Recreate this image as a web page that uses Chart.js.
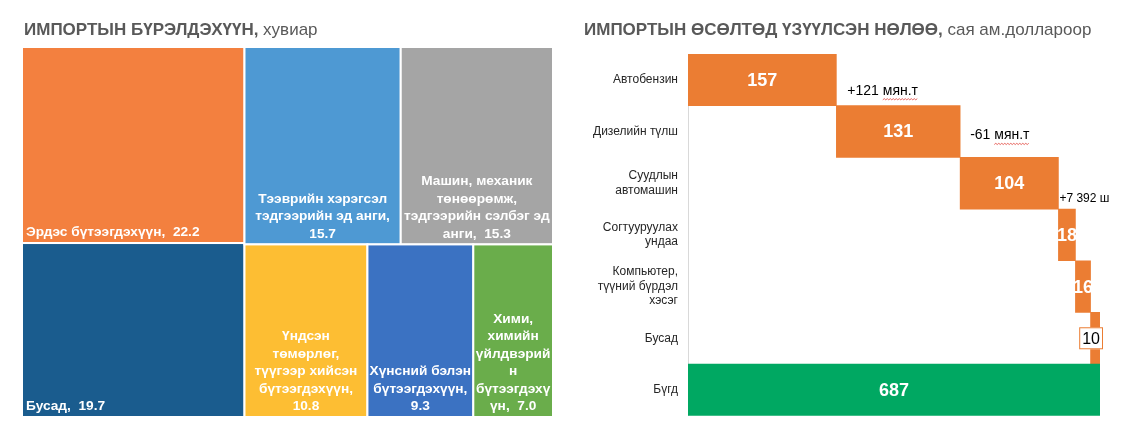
<!DOCTYPE html>
<html>
<head>
<meta charset="utf-8">
<script src="https://cdn.jsdelivr.net/npm/chart.js@4.4.1/dist/chart.umd.min.js"></script>
<style>
  body { margin: 0; background: #fff; font-family: "Liberation Sans", Arial, sans-serif; }
  #wrap { position: relative; width: 1121px; height: 433px; overflow: hidden; }
  .title { position: absolute; top: 21px; font-size: 17px; line-height: 18px; color: #595959; white-space: nowrap; }
  .title span { font-weight: normal; }
  #boxLeft { position: absolute; left: 0; top: 0; width: 560px; height: 433px; }
  #boxRight { position: absolute; left: 560px; top: 0; width: 561px; height: 433px; }
</style>
</head>
<body>
<div id="wrap">
  <div id="boxLeft"><canvas id="treeChart"></canvas></div>
  <div id="boxRight"><canvas id="waterfallChart"></canvas></div>
  <div class="title" style="left:24px"><b>ИМПОРТЫН БҮРЭЛДЭХҮҮН,</b><span> хувиар</span></div>
  <div class="title" style="left:584px"><b>ИМПОРТЫН ӨСӨЛТӨД ҮЗҮҮЛСЭН НӨЛӨӨ,</b><span> сая ам.доллароор</span></div>
</div>

<script>
// === Treemap data (%), already sorted largest first ===
const treeNames = [
  "Эрдэс бүтээгдэхүүн,  ",
  "Бусад,  ",
  "Тээврийн хэрэгсэл\nтэдгээрийн эд анги,\n",
  "Машин, механик\nтөнөөрөмж,\nтэдгээрийн сэлбэг эд\nанги,  ",
  "Үндсэн\nтөмөрлөг,\nтүүгээр хийсэн\nбүтээгдэхүүн,\n",
  "Хүнсний бэлэн\nбүтээгдэхүүн,\n",
  "Хими,\nхимийн\nүйлдвэрий\nн\nбүтээгдэхү\nүн,  ",
];
const treeValues = [22.2, 19.7, 15.7, 15.3, 10.8, 9.3, 7.0];
const treeColors = ["#F3803F", "#1A5C8E", "#4E99D3", "#A5A5A5", "#FDBE33", "#3B72C2", "#6AAD4B"];

// === Waterfall data (mln USD) ===
const wfCategories = [
  ["Автобензин"],
  ["Дизелийн түлш"],
  ["Суудлын", "автомашин"],
  ["Согтууруулах", "ундаа"],
  ["Компьютер,", "түүний бүрдэл", "хэсэг"],
  ["Бусад"],
  ["Бүгд"],
];
const wfSteps = [157, 131, 104, 18, 16, 10];
const wfTotal = 687;
const wfNotes = ["+121 мян.т", "-61 мян.т", "+7 392 ш"];

const FONT = '"Liberation Sans", Arial, sans-serif';

// === Squarified layout ===
function worst(row, side) {
  const s = row.reduce((a, b) => a + b, 0);
  const mx = Math.max(...row), mn = Math.min(...row);
  return Math.max((side * side * mx) / (s * s), (s * s) / (side * side * mn));
}

function squarify(values, box) {
  const total = values.reduce((a, b) => a + b, 0);
  const areas = values.map((v) => (v * box.w * box.h) / total);
  let { x, y, w, h } = box;
  const rects = [];
  let i = 0;
  while (i < areas.length) {
    const side = Math.min(w, h);
    const row = [areas[i]];
    let j = i + 1;
    while (j < areas.length && worst([...row, areas[j]], side) <= worst(row, side)) {
      row.push(areas[j]);
      j++;
    }
    const thick = row.reduce((a, b) => a + b, 0) / side;
    if (w >= h) {
      let yy = y;
      row.forEach((a) => { rects.push({ x, y: yy, w: thick, h: a / thick }); yy += a / thick; });
      x += thick; w -= thick;
    } else {
      let xx = x;
      row.forEach((a) => { rects.push({ x: xx, y, w: a / thick, h: thick }); xx += a / thick; });
      y += thick; h -= thick;
    }
    i = j;
  }
  return rects;
}

const treemapPlugin = {
  id: "treemap",
  afterDraw(chart) {
    const { ctx } = chart;
    const sx = chart.scales.x, sy = chart.scales.y;
    const left = sx.getPixelForValue(0), right = sx.getPixelForValue(100);
    const top = sy.getPixelForValue(100), bottom = sy.getPixelForValue(0);
    const rects = squarify(treeValues, { x: left, y: top, w: right - left, h: bottom - top });

    ctx.save();
    rects.forEach((r, i) => {
      ctx.fillStyle = treeColors[i];
      ctx.fillRect(r.x, r.y, r.w, r.h);
      ctx.strokeStyle = "#fff";
      ctx.lineWidth = 2;
      ctx.strokeRect(r.x, r.y, r.w, r.h);

      const lines = (treeNames[i] + treeValues[i].toFixed(1)).split("\n");
      ctx.fillStyle = "#fff";
      ctx.font = "bold 13.7px " + FONT;
      ctx.textBaseline = "middle";
      const lh = 17.5;
      const lastY = r.y + r.h - 10.5;
      lines.forEach((ln, k) => {
        const yy = lastY - (lines.length - 1 - k) * lh;
        if (lines.length === 1) {
          ctx.textAlign = "left";
          ctx.fillText(ln, r.x + 4, yy);
        } else {
          ctx.textAlign = "center";
          ctx.fillText(ln, r.x + r.w / 2, yy);
        }
      });
    });
    ctx.restore();
  },
};

new Chart(document.getElementById("treeChart"), {
  type: "scatter",
  data: { datasets: [{ data: [] }] },
  options: {
    responsive: true,
    maintainAspectRatio: false,
    animation: false,
    layout: { padding: { left: 22, right: 7, top: 47, bottom: 16 } },
    plugins: { legend: { display: false }, tooltip: { enabled: false } },
    scales: {
      x: { type: "linear", min: 0, max: 100, display: false },
      y: { type: "linear", min: 0, max: 100, display: false },
    },
  },
  plugins: [treemapPlugin],
});

// === Waterfall ===
const floating = [];
let run = 0;
wfSteps.forEach((v) => { floating.push([run, run + v]); run += v; });
floating.push([0, run]); // total bar ends where the steps end
const wfLabels = [...wfSteps, wfTotal].map(String);
const barColors = [...wfSteps.map(() => "#EB7D33"), "#00A862"];

const noteDx = [11, 10, 1];
const noteDy = [11, 4, 15];
const noteSize = [14, 14, 12];

function squiggle(ctx, x0, x1, y) {
  ctx.beginPath();
  ctx.strokeStyle = "#E0413A";
  ctx.lineWidth = 0.8;
  let up = true;
  ctx.moveTo(x0, y);
  for (let x = x0 + 1.5; x <= x1; x += 1.5) {
    ctx.lineTo(x, up ? y - 1.2 : y);
    up = !up;
  }
  ctx.stroke();
}

const wfLabelPlugin = {
  id: "wfLabels",
  afterDatasetsDraw(chart) {
    const { ctx } = chart;
    const meta = chart.getDatasetMeta(0);
    ctx.save();
    ctx.textBaseline = "middle";
    meta.data.forEach((bar, i) => {
      const w = Math.abs(bar.x - bar.base);
      const cx = (bar.x + bar.base) / 2;
      if (w < 12) {
        ctx.font = "16px " + FONT;
        const tw = ctx.measureText(wfLabels[i]).width;
        const bx = bar.x + 3 - (tw + 6);
        ctx.fillStyle = "#fff";
        ctx.fillRect(bx, bar.y - 11, tw + 6, 22);
        ctx.strokeStyle = "#EB7D33";
        ctx.lineWidth = 1;
        ctx.strokeRect(bx + 0.5, bar.y - 10.5, tw + 5, 21);
        ctx.fillStyle = "#000";
        ctx.textAlign = "center";
        ctx.fillText(wfLabels[i], bx + (tw + 6) / 2, bar.y + 1);
      } else {
        ctx.font = "bold 18px " + FONT;
        ctx.fillStyle = "#fff";
        ctx.textAlign = "center";
        ctx.fillText(wfLabels[i], cx, bar.y + 1);
      }
    });

    wfNotes.forEach((txt, i) => {
      const bar = meta.data[i];
      const x = bar.x + noteDx[i];
      const y = bar.y + noteDy[i];
      ctx.font = noteSize[i] + "px " + FONT;
      ctx.fillStyle = "#000";
      ctx.textAlign = "left";
      ctx.fillText(txt, x, y);
      const k = txt.indexOf("мян.т");
      if (k >= 0) {
        const x0 = x + ctx.measureText(txt.slice(0, k)).width;
        const x1 = x + ctx.measureText(txt).width;
        squiggle(ctx, x0, x1, y + 9);
      }
    });
    ctx.restore();
  },
};

new Chart(document.getElementById("waterfallChart"), {
  type: "bar",
  data: {
    labels: wfCategories,
    datasets: [
      {
        data: floating,
        backgroundColor: barColors,
        borderWidth: 0,
        categoryPercentage: 1,
        barPercentage: 1,
      },
    ],
  },
  options: {
    indexAxis: "y",
    responsive: true,
    maintainAspectRatio: false,
    animation: false,
    layout: { padding: { left: 0, right: 21, top: 54, bottom: 15 } },
    plugins: { legend: { display: false }, tooltip: { enabled: false } },
    scales: {
      x: { min: 0, max: run, display: false },
      y: {
        grid: { display: false, drawTicks: false },
        border: { display: true, color: "#D9D9D9", width: 1 },
        ticks: {
          padding: 10,
          color: "#262626",
          font: { family: FONT, size: 12, lineHeight: 1.2 },
        },
        afterFit: (scale) => { scale.width = 128; },
      },
    },
  },
  plugins: [wfLabelPlugin],
});
</script>
</body>
</html>
